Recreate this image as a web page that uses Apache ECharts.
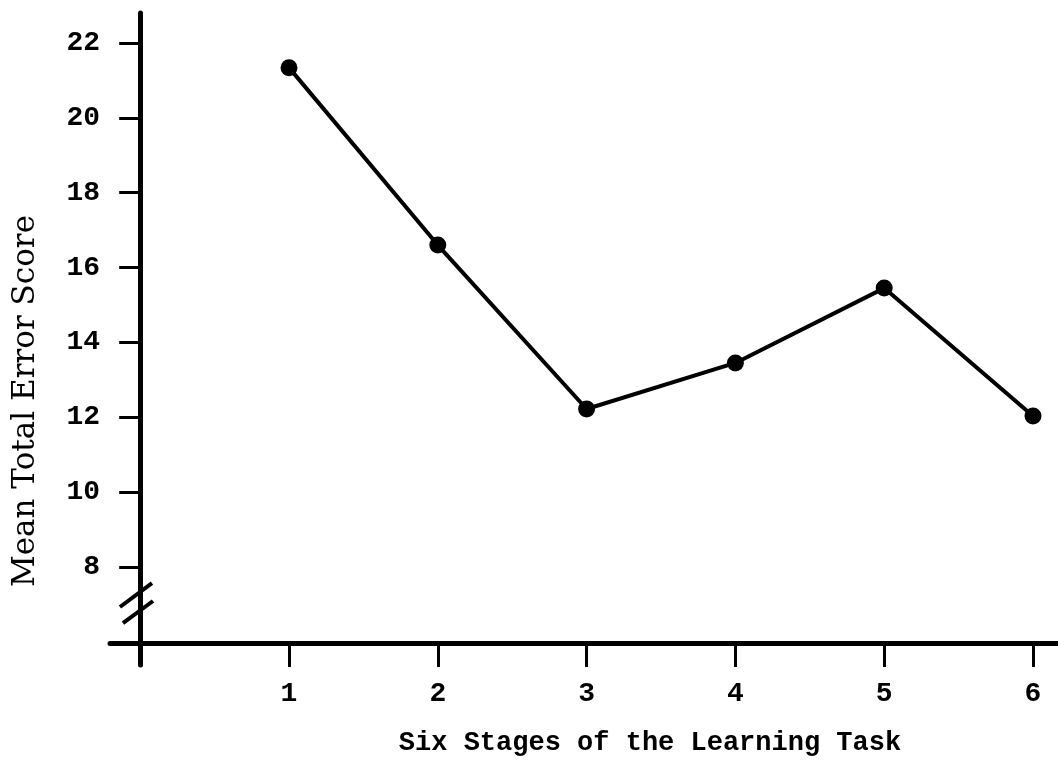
<!DOCTYPE html>
<html>
<head>
<meta charset="utf-8">
<script src="https://cdn.jsdelivr.net/npm/echarts@6/dist/echarts.min.js"></script>
<style>
  html, body { margin: 0; padding: 0; background: #fff; }
  #chart { width: 1058px; height: 763px; }
</style>
</head>
<body>
<div id="chart"></div>
<script>
// stages of the learning task (x) and mean total error score (y)
const stages = [1, 2, 3, 4, 5, 6];
const meanErrors = [21.34, 16.6, 12.22, 13.45, 15.45, 12.03];
const yTicks = [8, 10, 12, 14, 16, 18, 20, 22];
const xTicks = [1, 2, 3, 4, 5, 6];

const xTitle = 'Six Stages of the Learning Task';
const yTitle = 'Mean Total Error Score';

const chart = echarts.init(document.getElementById('chart'));

const option = {
    backgroundColor: '#ffffff',
    animation: false,
    grid: {
        left: 110,
        right: 0,
        top: 13,
        bottom: 98
    },
    xAxis: {
        type: 'value',
        min: -0.203,
        max: 6.168,
        offset: -22,
        splitLine: { show: false },
        axisLine: { lineStyle: { color: '#000', width: 5 } },
        axisTick: {
            customValues: xTicks,
            length: 24,
            lineStyle: { color: '#000', width: 3 }
        },
        axisLabel: {
            customValues: xTicks,
            margin: 37,
            color: '#000',
            fontFamily: 'Liberation Mono',
            fontWeight: 'bold',
            fontSize: 28
        },
        name: xTitle,
        nameLocation: 'middle',
        nameGap: 87,
        nameTextStyle: {
            color: '#000',
            fontFamily: 'Liberation Mono',
            fontWeight: 'bold',
            fontSize: 27,
            padding: [0, 0, 0, 132]
        }
    },
    yAxis: {
        type: 'value',
        min: 5.38,
        max: 22.8,
        offset: -27,
        splitLine: { show: false },
        axisLine: { lineStyle: { color: '#000', width: 5 } },
        axisTick: {
            customValues: yTicks,
            length: 21,
            lineStyle: { color: '#000', width: 3 }
        },
        axisLabel: {
            customValues: yTicks,
            margin: 37,
            color: '#000',
            fontFamily: 'Liberation Mono',
            fontWeight: 'bold',
            fontSize: 28
        },
        name: yTitle,
        nameLocation: 'middle',
        nameGap: 96,
        nameRotate: 90,
        nameTextStyle: {
            color: '#000',
            fontFamily: 'DejaVu Serif',
            fontSize: 31,
            padding: [0, 124, 0, 0]
        }
    },
    series: [
        {
            type: 'line',
            data: stages.map((s, i) => [s, meanErrors[i]]),
            symbol: 'circle',
            symbolSize: 17,
            lineStyle: { color: '#000', width: 4 },
            itemStyle: { color: '#000' },
            // axis break marks on the y axis
            markLine: {
                silent: true,
                symbol: 'none',
                label: { show: false },
                lineStyle: { color: '#000', width: 4, type: 'solid' },
                data: [
                    [{ coord: [-0.136, 6.93] }, { coord: [0.079, 7.57] }],
                    [{ coord: [-0.116, 6.5] }, { coord: [0.086, 7.09] }]
                ]
            }
        }
    ]
};

chart.setOption(option);
</script>
</body>
</html>
